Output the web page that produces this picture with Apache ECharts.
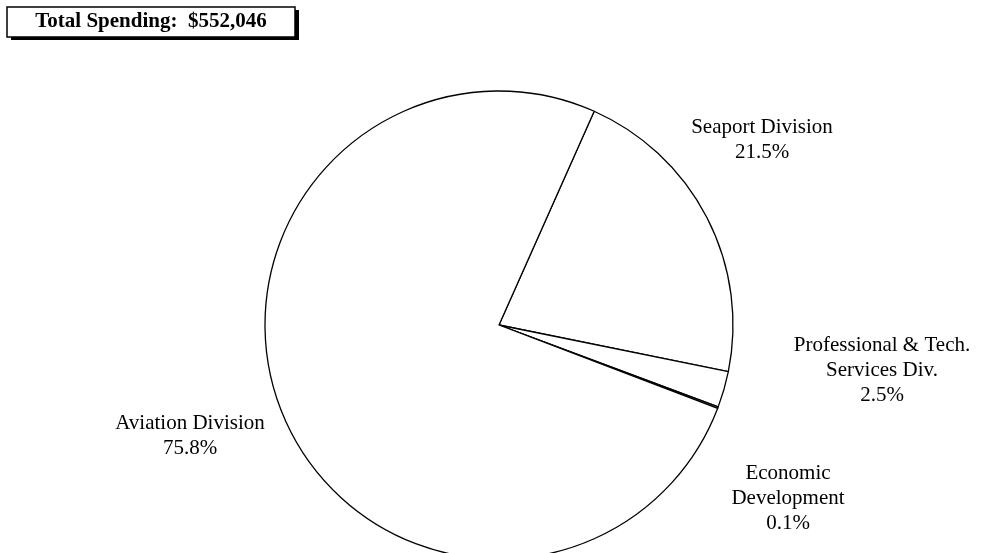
<!DOCTYPE html>
<html>
<head>
    <meta charset="utf-8">
    <title>Total Spending</title>
    <script src="https://cdn.jsdelivr.net/npm/echarts@6/dist/echarts.min.js"></script>
    <style>
        html, body { margin: 0; padding: 0; background: #fff; }
    </style>
</head>
<body>
    <div id="main" style="width: 982px;height:553px;"></div>
    <script type="text/javascript">
        var myChart = echarts.init(document.getElementById('main'));

        // data (share of total, in %)
        var categories = ['Seaport Division', 'Professional & Tech.\nServices Div.', 'Economic\nDevelopment', 'Aviation Division'];
        var shares = [21.5, 2.5, 0.1, 75.8];
        var totalText = 'Total Spending:  $552,046';

        // where each label block is centred
        var labelAt = [[762, 140], [882, 370], [788, 498], [190, 436]];

        var pieData = [];
        for (var i = 0; i < categories.length; i++) {
            pieData.push({ name: categories[i], value: shares[i] });
        }

        var serif = '"Liberation Serif", "Times New Roman", serif';

        option = {
            backgroundColor: '#fff',
            animation: false,
            graphic: [
                { type: 'rect', shape: { x: 11, y: 10, width: 288, height: 30 }, style: { fill: '#000' } },
                { type: 'rect', shape: { x: 7, y: 7, width: 288, height: 30 }, style: { fill: '#fff', stroke: '#000', lineWidth: 1.5 } },
                {
                    type: 'text', x: 151, y: 22,
                    style: {
                        text: totalText, fill: '#000', font: 'bold 21px ' + serif,
                        align: 'center', verticalAlign: 'middle'
                    }
                }
            ],
            series: [
                {
                    type: 'pie',
                    center: [499, 325],
                    radius: [0, 234],
                    startAngle: 66,
                    clockwise: true,
                    minAngle: 0,
                    avoidLabelOverlap: false,
                    emphasis: { disabled: true },
                    itemStyle: { color: '#fff', borderColor: '#000', borderWidth: 1.3 },
                    label: {
                        show: true,
                        position: 'outside',
                        color: '#000',
                        fontFamily: serif,
                        fontSize: 21,
                        lineHeight: 25,
                        align: 'center',
                        formatter: function (p) {
                            return p.name + '\n' + p.value.toFixed(1) + '%';
                        }
                    },
                    labelLine: { show: false },
                    labelLayout: function (params) {
                        var pos = labelAt[params.dataIndex];
                        return { x: pos[0], y: pos[1], align: 'center', verticalAlign: 'middle' };
                    },
                    data: pieData
                }
            ]
        };

        myChart.setOption(option);
    </script>
</body>
</html>
